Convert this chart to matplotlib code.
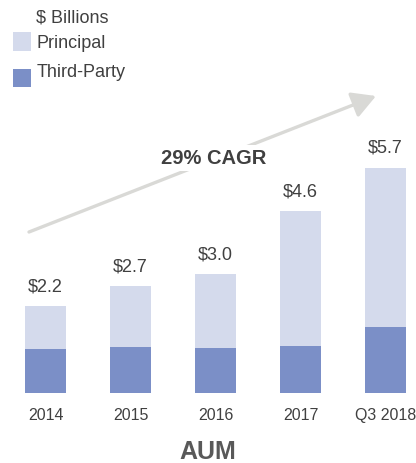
import matplotlib
matplotlib.use("Agg")
import matplotlib.pyplot as plt
from matplotlib.patches import Rectangle

plt.rcParams['font.family'] = ['Liberation Sans', 'DejaVu Sans']

categories = ["2014", "2015", "2016", "2017", "Q3 2018"]
third_party = [1.10, 1.15, 1.12, 1.18, 1.67]
principal = [1.10, 1.55, 1.88, 3.42, 4.03]
totals = [2.2, 2.7, 3.0, 4.6, 5.7]
total_labels = ["$2.2", "$2.7", "$3.0", "$4.6", "$5.7"]

c_principal = "#d4daec"
c_third = "#7b8fc7"
c_text = "#404040"
c_arrow = "#d9d9d6"

W, H = 416, 463
fig = plt.figure(figsize=(W / 100, H / 100), dpi=100)

base_px = 392.7
ax = fig.add_axes([0, (H - base_px) / H, 1, base_px / H])
x = list(range(len(categories)))
ax.bar(x, third_party, width=0.482, color=c_third, edgecolor='none')
ax.bar(x, principal, bottom=third_party, width=0.482, color=c_principal, edgecolor='none')
ax.set_xlim(-45.5 / 85, (W - 45.5) / 85)
ax.set_ylim(0, base_px / 39.5)
for s in ax.spines.values():
    s.set_visible(False)
ax.set_yticks([])
ax.set_xticks(x)
ax.set_xticklabels(categories, fontsize=11.5, color=c_text)
ax.tick_params(axis='x', length=0, pad=11)

for xi, t, lab in zip(x, totals, total_labels):
    ax.annotate(lab, (xi, t), xytext=(0, 10.5), textcoords='offset points',
                ha='center', va='baseline', fontsize=13, color=c_text)

def fx(px):
    return px / W

def fy(py):
    return 1 - py / H

# CAGR arrow
fig.patches.append(matplotlib.patches.FancyArrowPatch(
    (fx(29), fy(232)), (fx(376), fy(96)), transform=fig.transFigure,
    arrowstyle='-|>,head_length=9,head_width=5', mutation_scale=1.6,
    color=c_arrow, linewidth=2.4, shrinkA=0, shrinkB=0))
fig.text(fx(214), fy(158), "29% CAGR", ha='center', va='center', fontsize=14.5,
         fontweight='bold', color=c_text,
         bbox=dict(boxstyle='square,pad=0.15', facecolor='white', edgecolor='none'))

# Legend
fig.text(fx(36.5), fy(18.5), "$ Billions", ha='left', va='center', fontsize=13, color=c_text)
fig.patches.append(Rectangle((fx(12.7), fy(50.7)), 18 / W, 19 / H, transform=fig.transFigure,
                             facecolor=c_principal, edgecolor='none'))
fig.text(fx(36.5), fy(43.5), "Principal", ha='left', va='center', fontsize=13, color=c_text)
fig.patches.append(Rectangle((fx(12.7), fy(87.3)), 18 / W, 18.3 / H, transform=fig.transFigure,
                             facecolor=c_third, edgecolor='none'))
fig.text(fx(36.5), fy(72.5), "Third-Party", ha='left', va='center', fontsize=13, color=c_text)

fig.text(fx(207.5), fy(452), "AUM", ha='center', va='center', fontsize=18,
         fontweight='bold', color="#595959")

fig.savefig("out.png", dpi=100)
